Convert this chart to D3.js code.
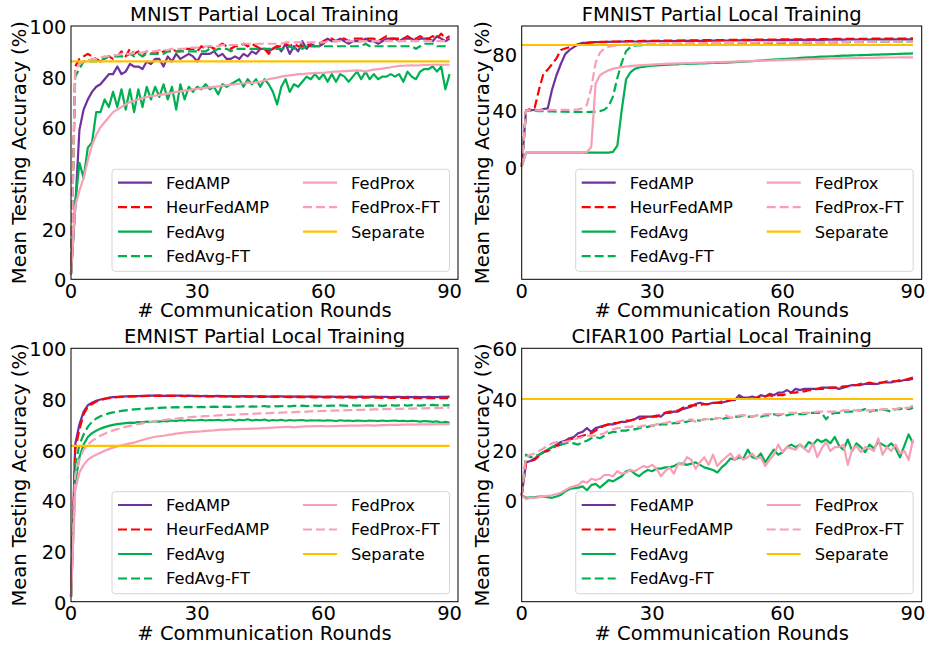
<!DOCTYPE html>
<html>
<head>
<meta charset="utf-8">
<script src="https://cdnjs.cloudflare.com/ajax/libs/d3/7.8.5/d3.min.js"></script>
<style>
  body { margin: 0; background: #fff; }
  svg { display: block; font-family: "DejaVu Sans", sans-serif; }
</style>
</head>
<body>
<div id="viz"></div>
<script>
// communication rounds on the x axis
var rounds = d3.range(0, 91),
    sepRounds = [0, 90];

var seriesNames = ['FedAMP', 'HeurFedAMP', 'FedAvg', 'FedAvg-FT', 'FedProx', 'FedProx-FT', 'Separate'];
var xTicks = [0, 30, 60, 90];

// ---- MNIST ----
var mnistAmp = [2, 28, 59, 67, 71, 74, 76, 77, 79, 81,
  81, 84, 81, 82, 85, 84, 84, 83, 86, 85,
  87, 87, 84, 88, 86, 89, 87, 88, 89, 88,
  86, 89, 89, 89, 90, 88, 89, 87, 87, 88,
  87, 89, 88, 90, 89, 91, 91, 90, 91, 92,
  90, 93, 89, 92, 90, 94, 91, 93, 92, 92,
  93, 95, 94, 94, 95, 94, 93, 94, 94, 94,
  95, 94, 94, 93, 94, 95, 95, 95, 94, 95,
  95, 95, 94, 95, 95, 95, 94, 96, 95, 94, 95];
var mnistHeur = [2, 84, 87, 88, 89, 88, 87, 86, 87, 88,
  87, 88, 90, 88, 91, 89, 90, 88, 90, 89,
  90, 89, 90, 90, 91, 90, 90, 91, 91, 91,
  90, 92, 91, 92, 91, 92, 93, 92, 91, 92,
  92, 93, 92, 93, 92, 91, 91, 89, 91, 92,
  92, 93, 92, 93, 92, 92, 93, 92, 92, 93,
  94, 95, 95, 94, 95, 95, 94, 95, 95, 95,
  95, 95, 95, 94, 95, 96, 95, 95, 95, 95,
  96, 95, 95, 96, 95, 95, 96, 95, 97, 95, 96];
var mnistAvg = [2, 30, 46, 40, 52, 54, 66, 66, 71, 68,
  74, 68, 75, 67, 75, 66, 75, 68, 76, 71,
  76, 72, 77, 71, 76, 67, 77, 71, 76, 74,
  76, 75, 77, 75, 76, 73, 77, 76, 77, 78,
  79, 76, 79, 77, 79, 76, 79, 77, 74, 69,
  76, 79, 74, 77, 76, 78, 80, 79, 81, 79,
  81, 78, 81, 78, 81, 80, 78, 80, 82, 79,
  82, 79, 81, 79, 80, 80, 81, 80, 81, 78,
  82, 80, 79, 82, 83, 83, 84, 82, 84, 75, 81];
var mnistAvgFT = [2, 80, 83, 86, 86, 86, 86, 87, 87, 88,
  88, 88, 88, 88, 89, 88, 89, 88, 89, 89,
  89, 89, 89, 90, 90, 90, 90, 90, 90, 90,
  90, 90, 90, 91, 90, 91, 91, 91, 90, 91,
  91, 91, 91, 91, 91, 91, 91, 91, 91, 91,
  91, 91, 92, 91, 92, 91, 92, 92, 92, 92,
  92, 92, 92, 92, 92, 92, 92, 92, 92, 92,
  93, 92, 92, 92, 92, 92, 92, 92, 92, 92,
  92, 92, 91, 92, 93, 93, 93, 92, 92, 92, 92];
var mnistProx = [2, 29, 35, 40, 47, 53, 57, 60, 62, 64,
  66, 67, 68, 69, 70, 70.5, 71, 71.5, 72, 72.3,
  72.5, 72.8, 73, 73.3, 73.6, 74, 74.2, 74.5, 74.7, 75,
  75.2, 75.4, 75.6, 75.8, 76, 76.2, 76.4, 76.6, 76.8, 77,
  77.2, 77.4, 77.6, 77.5, 77.8, 78, 78.5, 79, 79.3, 79.6,
  80, 80.3, 80.5, 80.7, 81, 81, 81.2, 81.3, 81.4, 81.5,
  81.5, 81.7, 81.9, 82, 82.1, 82.2, 82.3, 82.4, 82.5, 82.4,
  82, 82.5, 82.8, 83, 83.2, 83.5, 83.7, 84, 84.2, 84.3,
  84.4, 84.5, 84.4, 84.5, 84.6, 84.6, 84.7, 84.7, 84.6, 84.7, 84.7];
var mnistProxFT = [2, 82, 85, 86, 86.5, 87, 87, 87.5, 88, 88,
  88.5, 88.5, 89, 89, 89, 89.5, 89.5, 89.5, 90, 90,
  90, 90.5, 90.5, 90.5, 91, 91, 91, 91, 91.5, 91.5,
  91.5, 91.5, 92, 92, 92, 92, 92.5, 92.5, 92.5, 92.5,
  92.5, 93, 93, 93, 93, 93, 93, 93, 93, 93,
  93, 93.5, 93.5, 93.5, 93.5, 93.5, 93.5, 93.5, 93.5, 93.5,
  93.5, 94, 94, 94, 94, 94, 94, 94, 94, 94,
  94, 94, 94, 94, 94, 94, 94, 94, 94, 94,
  94, 94, 94, 94, 94, 94, 94, 94, 94, 94, 94];
var mnistSep = [86, 86];

// ---- FMNIST ----
var fmnistAmp = [0, 40, 40, 40.5, 40, 41, 41.5, 55, 65, 73,
  80, 83, 85, 87, 88, 88, 88.3, 88.5, 88.5, 88.6,
  88.7, 88.8, 88.8, 88.9, 89, 89, 89, 89, 89.1, 89.1,
  89.2, 89.2, 89.2, 89.3, 89.3, 89.3, 89.4, 89.4, 89.4, 89.5,
  89.5, 89.5, 89.5, 89.6, 89.6, 89.6, 89.7, 89.7, 89.7, 89.8,
  89.8, 89.8, 89.8, 89.9, 89.9, 89.9, 90, 90, 90, 90,
  90, 90, 90.1, 90.1, 90.1, 90.1, 90.2, 90.2, 90.2, 90.2,
  90.3, 90.3, 90.3, 90.3, 90.3, 90.4, 90.4, 90.4, 90.4, 90.4,
  90.4, 90.5, 90.5, 90.5, 90.5, 90.5, 90.5, 90.5, 90.5, 90.5, 90.5];
var fmnistHeur = [0, 40, 41, 42, 55, 66, 69, 73, 77, 83,
  84, 85, 86, 87, 87.5, 88, 88.3, 88.5, 88.7, 88.8,
  88.9, 89, 89, 89.1, 89.2, 89.2, 89.3, 89.3, 89.4, 89.4,
  89.5, 89.5, 89.6, 89.6, 89.6, 89.7, 89.7, 89.7, 89.8, 89.8,
  89.8, 89.9, 89.9, 89.9, 90, 90, 90, 90, 90.1, 90.1,
  90.1, 90.2, 90.2, 90.2, 90.3, 90.3, 90.3, 90.4, 90.4, 90.4,
  90.5, 90.5, 90.5, 90.5, 90.6, 90.6, 90.6, 90.6, 90.7, 90.7,
  90.7, 90.7, 90.8, 90.8, 90.8, 90.8, 90.9, 90.9, 90.9, 90.9,
  91, 91, 91, 91, 91, 91.1, 91.1, 91.1, 91.1, 91.1, 91.2];
var fmnistAvg = [0, 10, 10, 10, 10, 10, 10, 10, 10, 10,
  10, 10, 10, 10, 10, 10, 10, 10, 10, 10,
  10, 10.5, 15, 40, 62, 67, 69.5, 70.5, 71, 71.5,
  71.8, 72, 72.2, 72.4, 72.5, 72.7, 72.8, 73, 73.1, 73.2,
  73.3, 73.4, 73.5, 73.6, 73.7, 73.8, 73.9, 74, 74.1, 74.3,
  74.5, 74.7, 74.9, 75.1, 75.3, 75.5, 75.7, 75.9, 76.1, 76.3,
  76.5, 76.7, 76.9, 77.1, 77.3, 77.5, 77.7, 77.8, 78, 78.2,
  78.3, 78.5, 78.6, 78.8, 78.9, 79, 79.1, 79.2, 79.3, 79.4,
  79.5, 79.6, 79.7, 79.8, 79.9, 80, 80.1, 80.2, 80.3, 80.4, 80.5];
var fmnistAvgFT = [0, 40, 39.8, 39.6, 39.5, 39.5, 39.4, 39.3, 39.2, 39.2,
  39.1, 39, 39, 39, 38.9, 38.9, 39, 39, 39.5, 40.5,
  43, 50, 63, 74, 82, 85, 86, 86.3, 86.5, 86.7,
  86.8, 86.9, 87, 87, 87.1, 87.1, 87.2, 87.2, 87.3, 87.3,
  87.4, 87.4, 87.4, 87.5, 87.5, 87.5, 87.6, 87.6, 87.6, 87.7,
  87.7, 87.7, 87.8, 87.8, 87.8, 87.9, 87.9, 87.9, 88, 88,
  88, 88, 88.1, 88.1, 88.1, 88.2, 88.2, 88.2, 88.3, 88.3,
  88.3, 88.4, 88.4, 88.4, 88.5, 88.5, 88.5, 88.6, 88.6, 88.6,
  88.7, 88.7, 88.7, 88.7, 88.8, 88.8, 88.8, 88.8, 88.9, 88.9, 88.9];
var fmnistProx = [0, 10, 10, 10, 10, 10, 10, 10, 10, 10,
  10, 10, 10, 10, 10, 10.5, 14, 59, 65, 67,
  68.5, 69.5, 70.3, 70.8, 71.2, 71.5, 71.8, 72, 72.2, 72.4,
  72.6, 72.8, 73, 73.1, 73.2, 73.3, 73.4, 73.5, 73.6, 73.7,
  73.8, 73.9, 74, 74.1, 74.2, 74.3, 74.4, 74.5, 74.6, 74.7,
  74.8, 74.9, 75, 75.1, 75.2, 75.3, 75.4, 75.5, 75.6, 75.7,
  75.8, 75.9, 76, 76.1, 76.2, 76.3, 76.4, 76.5, 76.6, 76.7,
  76.8, 76.9, 77, 77, 77.1, 77.1, 77.2, 77.2, 77.3, 77.3,
  77.4, 77.4, 77.5, 77.5, 77.6, 77.6, 77.6, 77.7, 77.7, 77.7, 77.7];
var fmnistProxFT = [0, 40, 40, 40, 40, 40.2, 40.2, 40.3, 40.3, 40.4,
  40.4, 40.5, 40.5, 40.8, 41.5, 44, 56, 74, 81, 84,
  85.3, 85.8, 86.2, 86.5, 86.7, 86.9, 87, 87.1, 87.2, 87.3,
  87.4, 87.4, 87.5, 87.5, 87.6, 87.6, 87.7, 87.7, 87.7, 87.8,
  87.8, 87.8, 87.9, 87.9, 87.9, 88, 88, 88, 88, 88.1,
  88.1, 88.1, 88.1, 88.2, 88.2, 88.2, 88.2, 88.3, 88.3, 88.3,
  88.3, 88.3, 88.4, 88.4, 88.4, 88.4, 88.4, 88.5, 88.5, 88.5,
  88.5, 88.5, 88.6, 88.6, 88.6, 88.6, 88.6, 88.7, 88.7, 88.7,
  88.7, 88.7, 88.8, 88.8, 88.8, 88.8, 88.8, 88.9, 88.9, 88.9, 88.9];
var fmnistSep = [86.5, 86.5];

// ---- EMNIST ----
var emnistAmp = [2, 62, 70, 75, 77.5, 78.5, 79.3, 79.8, 80.2, 80.5,
  80.7, 80.8, 80.9, 81, 81, 81.1, 81.1, 81.2, 81.2, 81.3,
  81.3, 81.3, 81.2, 81.3, 81.2, 81.3, 81.3, 81.2, 81.3, 81.2,
  81.2, 81.1, 81.2, 81.1, 81.1, 81.2, 81.1, 81, 81.1, 81,
  81, 81.1, 81, 81, 81, 81.1, 81, 80.9, 81, 81,
  81, 80.9, 81, 80.9, 81, 80.9, 80.9, 81, 80.9, 80.9,
  80.8, 80.9, 80.9, 80.8, 80.9, 80.8, 80.9, 80.8, 80.8, 80.9,
  80.8, 80.8, 80.9, 80.8, 80.8, 80.8, 80.7, 80.8, 80.8, 80.7,
  80.8, 80.7, 80.8, 80.7, 80.7, 80.8, 80.7, 80.7, 80.8, 80.8, 80.9];
var emnistHeur = [2, 60, 68, 74, 77, 78, 79, 79.6, 80, 80.3,
  80.5, 80.7, 80.8, 80.9, 81, 81, 81.1, 81.1, 81.2, 81.2,
  81.2, 81.3, 81.2, 81.2, 81.3, 81.2, 81.2, 81.1, 81.2, 81.1,
  81.1, 81.1, 81, 81.1, 81, 81, 81.1, 81, 80.9, 81,
  80.9, 80.9, 81, 80.9, 80.9, 80.8, 80.9, 80.8, 80.8, 80.9,
  80.8, 80.8, 80.7, 80.8, 80.7, 80.8, 80.7, 80.7, 80.6, 80.7,
  80.6, 80.6, 80.7, 80.6, 80.6, 80.5, 80.6, 80.5, 80.6, 80.5,
  80.5, 80.6, 80.5, 80.5, 80.4, 80.5, 80.4, 80.5, 80.4, 80.4,
  80.4, 80.3, 80.4, 80.3, 80.4, 80.3, 80.3, 80.4, 80.3, 80.3, 80.3];
var emnistAvg = [2, 47, 57, 62, 65, 66.5, 67.5, 68.3, 68.9, 69.4,
  69.8, 70.1, 70.3, 70.5, 70.7, 70.6, 70.9, 70.8, 71.1, 70.9,
  71.2, 71.1, 71.3, 71.2, 71.5, 71.3, 71.6, 71.4, 71.7, 71.5,
  71.6, 71.8, 71.5, 71.7, 71.6, 71.8, 71.5, 71.7, 71.9, 71.4,
  71.8, 71.6, 72, 71.5, 71.8, 71.6, 71.9, 71.4, 71.7, 71.5,
  71.8, 71.4, 71.7, 71.5, 71.6, 71.7, 71.4, 71.6, 71.5, 71.6,
  71.4, 71.6, 71.5, 71.3, 71.6, 71.4, 71.5, 71.3, 71.5, 71.4,
  71.3, 71.5, 71.4, 71.3, 71.5, 71.3, 71.4, 71.5, 71.3, 71.4,
  71.2, 71.4, 71.3, 71.1, 71.3, 71.2, 71, 71.2, 70.6, 71, 70.6];
var emnistAvgFT = [2, 54, 62, 66, 69, 71, 72.3, 73.2, 73.8, 74.3,
  74.7, 75, 75.3, 75.5, 75.7, 75.9, 76, 76.1, 76.2, 76.3,
  76.4, 76.5, 76.6, 76.6, 76.7, 76.8, 76.7, 76.8, 76.9, 76.8,
  76.8, 76.9, 76.8, 76.9, 77, 76.9, 76.9, 77, 76.9, 77,
  77, 77.1, 76.9, 77.1, 77, 77.1, 77.2, 77, 77.2, 77.1,
  77.2, 77.3, 77.1, 77.3, 77.2, 77.4, 77.2, 77.3, 77.4, 77.3,
  77.5, 77.3, 77.4, 77.3, 77.5, 77.4, 77.3, 77.5, 77.4, 77.5,
  77.3, 77.5, 77.4, 77.5, 77.3, 77.5, 77.6, 77.4, 77.5, 77.6,
  77.4, 77.6, 77.5, 77.4, 77.6, 77.5, 77.7, 77.5, 77.6, 77.5, 77.6];
var emnistProx = [2, 44, 51, 54, 56, 57.2, 58, 58.8, 59.6, 60.2,
  60.8, 61.3, 61.7, 62.1, 62.5, 62.8, 63.3, 63.8, 64.3, 64.7,
  65.1, 65.3, 65.5, 65.8, 66, 66.3, 66.5, 66.7, 66.9, 67,
  67.1, 67.2, 67.4, 67.5, 67.6, 67.8, 67.9, 67.9, 68, 68.1,
  68.1, 68.2, 68.2, 68.3, 68.3, 68.4, 68.5, 68.6, 68.7, 68.8,
  68.9, 69, 69, 68.8, 69, 69.1, 69.2, 69.2, 69.3, 69.3,
  69.3, 69.2, 69.3, 69.3, 69.4, 69.4, 69.5, 69.5, 69.5, 69.5,
  69.6, 69.6, 69.5, 69.6, 69.7, 69.7, 69.8, 69.8, 69.8, 69.9,
  69.9, 69.9, 69.9, 70, 70, 70, 70, 70.1, 70.1, 70.1, 70.1];
var emnistProxFT = [2, 50, 56, 60, 62, 63.5, 64.5, 65.5, 66.3, 67,
  67.6, 68.1, 68.6, 69, 69.4, 69.8, 70.1, 70.4, 70.7, 71,
  71.3, 71.5, 71.7, 71.9, 72.1, 72.3, 72.5, 72.6, 72.8, 72.9,
  73, 73.1, 73.2, 73.3, 73.4, 73.5, 73.6, 73.6, 73.7, 73.8,
  73.9, 74, 74, 74.1, 74.2, 74.3, 74.3, 74.4, 74.5, 74.5,
  74.6, 74.7, 74.7, 74.8, 74.9, 74.9, 75, 75.1, 75.1, 75.2,
  75.3, 75.3, 75.4, 75.4, 75.5, 75.5, 75.6, 75.6, 75.7, 75.7,
  75.8, 75.8, 75.9, 75.9, 76, 76, 76.1, 76.1, 76.1, 76.2,
  76.2, 76.2, 76.3, 76.3, 76.3, 76.4, 76.4, 76.4, 76.5, 76.5, 76.6];
var emnistSep = [61.5, 61.5];

// ---- CIFAR100 ----
var cifarAmp = [2, 15, 15.5, 16.5, 18, 19, 20, 21, 22, 23,
  23.5, 24.5, 25, 26.5, 27, 28.5, 27, 28.5, 29, 29.5,
  30, 30, 30.5, 31, 31, 31.5, 32, 33, 33, 33,
  33, 33.5, 33, 34.5, 34.5, 35, 35, 36, 36.5, 37,
  38, 38.5, 38, 38, 38.5, 38.5, 38.5, 39, 39.5, 39.5,
  41.5, 40.5, 40.5, 41, 40.5, 41.5, 41, 42, 41.5, 42.5,
  42.5, 43.5, 42.5, 44, 43.5, 44, 44, 44, 44, 44.5,
  44.5, 44.5, 44.5, 44, 44.5, 45, 45.5, 45.5, 45.5, 46,
  46, 46, 46, 46.5, 46.5, 46.5, 47, 47, 47.5, 47.5, 48];
var cifarHeur = [2, 15, 15.5, 16, 17.5, 19, 19.5, 20.5, 21.5, 22,
  23, 24, 24.5, 25, 25.5, 26, 26.5, 27.5, 28.5, 29.5,
  30, 30.5, 30.5, 31, 31.5, 31.5, 32, 32, 32.5, 33,
  33, 33, 34, 34.5, 35, 35, 35.5, 36.5, 37, 37.5,
  37.5, 37.5, 38, 38, 38.5, 38.5, 39, 39, 39.5, 40,
  40.5, 40, 40, 40, 40.5, 41, 41, 41.5, 41, 41.5,
  41.5, 42, 42.5, 42.5, 43, 43, 43.5, 43.5, 44, 44,
  44, 44.5, 44.5, 44.5, 45, 45, 45.5, 45.5, 46, 46,
  46.5, 46, 46.5, 46.5, 47, 47, 47, 47.5, 47.5, 48, 48.5];
var cifarAvg = [2, 1, 1.2, 1.3, 1.5, 1.5, 1.3, 1, 1.5, 2.2,
  3.5, 4.5, 4.8, 5, 5.5, 4, 6, 6.5, 5, 6.5,
  8, 7.5, 8.5, 9.5, 11.5, 12, 10.5, 9.5, 11, 12,
  11.5, 12.5, 12.5, 13, 13, 13.5, 14.5, 14.5, 14, 14.5,
  15, 14, 13, 12.5, 12, 11, 13, 14.5, 16.5, 16,
  17, 16.5, 20, 17, 16.5, 18.5, 15, 17.5, 20, 18,
  19, 21, 22, 21, 22, 20.5, 23, 22, 24, 23,
  24, 22.5, 25, 21.5, 20, 24, 19.5, 22.5, 21, 19,
  22, 20.5, 23, 22, 21, 22.5, 20.5, 17, 21.5, 26, 22.5];
var cifarAvgFT = [2, 18, 17, 17.5, 18, 19, 20, 21, 21.5, 22,
  22.5, 23, 22.5, 22, 23, 23.5, 24.5, 25, 24.5, 25.5,
  26.5, 27, 27, 27.5, 27.5, 28, 28, 28.5, 29, 29,
  29.5, 29.5, 30, 30, 30, 30.5, 30.5, 31, 31, 31.5,
  31.5, 31.5, 32, 32, 32, 32.5, 32, 32.5, 32.5, 33,
  33, 33.5, 33, 33, 33.5, 33, 33.5, 33.5, 34, 33.5,
  34, 33.5, 34, 34, 34, 34, 34.5, 34.5, 34.5, 34.5,
  32, 34, 34.5, 34.5, 35, 35, 35, 35.5, 35.5, 36,
  35, 35.5, 35.5, 36, 35.5, 35, 36, 36, 36.5, 36, 36.5];
var cifarProx = [2, 0.5, 1, 1, 1.3, 1.5, 1.8, 2, 2.5, 3,
  4, 5, 5.5, 6, 7.5, 7, 8.5, 8, 8.5, 10,
  10, 9.5, 11.5, 10.5, 11, 12, 11.5, 12.5, 13.5, 13,
  14, 12.5, 9.5, 11.5, 13, 10.5, 14.5, 14, 17, 16,
  12.5, 15, 17, 14, 18, 13.5, 15.5, 17, 18.5, 16,
  18, 16, 17, 18.5, 16.5, 17, 13.5, 16, 18, 22,
  19, 21, 20.5, 20, 22, 20.5, 19, 22.5, 17, 20.5,
  23, 19.5, 21, 21, 22, 14, 20, 21.5, 19, 21,
  20.5, 19.5, 24.5, 18, 21, 19.5, 22, 18.5, 19.5, 16, 24];
var cifarProxFT = [2, 17, 18, 18.5, 19.5, 20.5, 21.5, 22.5, 23, 23,
  23, 23.5, 24, 24.5, 25, 25.5, 25.5, 25.5, 26, 26.5,
  27.5, 28, 28.5, 28.5, 29, 29, 29.5, 29, 29.5, 29.5,
  29.5, 30, 30.5, 30.5, 31, 31, 31, 31.5, 31.5, 32,
  31, 31.5, 32, 32, 32, 32.5, 32.5, 33.5, 32.5, 33,
  33.5, 33.5, 33.5, 33, 33.5, 33.5, 34, 34, 34, 34,
  34, 34.5, 34.5, 34.5, 34.5, 34.5, 34.5, 34.5, 35, 35,
  35, 35, 35, 35, 35.5, 35.5, 35.5, 35.5, 35.5, 35.5,
  35.5, 35.5, 35.5, 36, 36, 36, 36, 36.5, 36.5, 36.5, 37.5];
var cifarSep = [40, 40];

// line styles, keyed by series name
var styles = {
  'FedAMP':     { color: '#7030a0', dash: null },
  'HeurFedAMP': { color: '#ff0000', dash: '9,4' },
  'FedAvg':     { color: '#00b050', dash: null },
  'FedAvg-FT':  { color: '#00b050', dash: '9,4' },
  'FedProx':    { color: '#f79fb5', dash: null },
  'FedProx-FT': { color: '#f79fb5', dash: '9,4' },
  'Separate':   { color: '#ffc000', dash: null }
};

var panels = [
  { title: 'MNIST Partial Local Training', left: 71, right: 458, top: 26, bottom: 279.3,
    yDomain: [0, 100], yTicks: [0, 20, 40, 60, 80, 100], yLabelX: 19,
    data: [mnistAmp, mnistHeur, mnistAvg, mnistAvgFT, mnistProx, mnistProxFT, mnistSep] },
  { title: 'FMNIST Partial Local Training', left: 521.7, right: 921.7, top: 26, bottom: 279.3,
    yDomain: [-80, 100], yTicks: [0, 40, 80], yLabelX: 482,
    data: [fmnistAmp, fmnistHeur, fmnistAvg, fmnistAvgFT, fmnistProx, fmnistProxFT, fmnistSep] },
  { title: 'EMNIST Partial Local Training', left: 71, right: 458, top: 348.3, bottom: 601.7,
    yDomain: [0, 100], yTicks: [0, 20, 40, 60, 80, 100], yLabelX: 19,
    data: [emnistAmp, emnistHeur, emnistAvg, emnistAvgFT, emnistProx, emnistProxFT, emnistSep] },
  { title: 'CIFAR100 Partial Local Training', left: 521.7, right: 921.7, top: 348.3, bottom: 601.7,
    yDomain: [-40, 60], yTicks: [0, 20, 40, 60], yLabelX: 482,
    data: [cifarAmp, cifarHeur, cifarAvg, cifarAvgFT, cifarProx, cifarProxFT, cifarSep] }
];

var svg = d3.select('#viz').append('svg')
  .attr('width', 925)
  .attr('height', 650);

panels.forEach(function(p) {
  var xScale = d3.scaleLinear().domain([0, 92]).range([p.left, p.right]),
      yScale = d3.scaleLinear().domain(p.yDomain).range([p.bottom, p.top]),
      g = svg.append('g');

  // lines
  seriesNames.forEach(function(name, i) {
    var vals = p.data[i],
        xs = name === 'Separate' ? sepRounds : rounds,
        st = styles[name];
    var line = d3.line()
      .x(function(d, j) { return xScale(xs[j]); })
      .y(function(d) { return yScale(d); });
    g.append('path')
      .datum(vals)
      .attr('d', line)
      .attr('fill', 'none')
      .attr('stroke', st.color)
      .attr('stroke-width', 2.2)
      .attr('stroke-linejoin', 'round')
      .attr('stroke-dasharray', st.dash);
  });

  // frame
  g.append('rect')
    .attr('x', p.left).attr('y', p.top)
    .attr('width', p.right - p.left).attr('height', p.bottom - p.top)
    .attr('fill', 'none').attr('stroke', '#000').attr('stroke-width', 1);

  // y tick labels
  g.selectAll('.ytick').data(p.yTicks).enter().append('text')
    .attr('x', p.left - 4.5)
    .attr('y', function(d) { return yScale(d) + 8; })
    .attr('text-anchor', 'end')
    .attr('font-size', 19.5)
    .text(function(d) { return d; });

  // x tick labels
  g.selectAll('.xtick').data(xTicks).enter().append('text')
    .attr('x', function(d) { return xScale(d); })
    .attr('y', p.bottom + 18.4)
    .attr('text-anchor', 'middle')
    .attr('font-size', 19.5)
    .text(function(d) { return d; });

  g.append('text')
    .attr('x', (p.left + p.right) / 2)
    .attr('y', p.top - 5)
    .attr('text-anchor', 'middle')
    .attr('font-size', 19.5)
    .text(p.title);

  g.append('text')
    .attr('x', (p.left + p.right) / 2)
    .attr('y', p.bottom + 38)
    .attr('text-anchor', 'middle')
    .attr('font-size', 19.5)
    .text('# Communication Rounds');

  g.append('text')
    .attr('transform', 'translate(' + (p.yLabelX + 7) + ',' + ((p.top + p.bottom) / 2) + ') rotate(-90)')
    .attr('text-anchor', 'middle')
    .attr('font-size', 19.5)
    .text('Mean Testing Accuracy (%)');

  // legend, lower right
  var lw = 337.5, lh = 102,
      lx = p.right - 8.5 - lw, ly = p.bottom - 8 - lh,
      legend = g.append('g').attr('transform', 'translate(' + lx + ',' + ly + ')');

  legend.append('rect')
    .attr('width', lw).attr('height', lh)
    .attr('rx', 3)
    .attr('fill', '#fff').attr('fill-opacity', 0.8)
    .attr('stroke', '#d6d6d6').attr('stroke-width', 1);

  seriesNames.forEach(function(name, i) {
    var col = i < 4 ? 0 : 1,
        row = i < 4 ? i : i - 4,
        hx = col === 0 ? 6 : 191,
        cy = 13.3 + row * 24.5,
        st = styles[name];
    legend.append('line')
      .attr('x1', hx).attr('x2', hx + 34)
      .attr('y1', cy).attr('y2', cy)
      .attr('stroke', st.color)
      .attr('stroke-width', 2.2)
      .attr('stroke-dasharray', st.dash);
    legend.append('text')
      .attr('x', hx + 48)
      .attr('y', cy + 6)
      .attr('font-size', 16.3)
      .text(name);
  });
});
</script>
</body>
</html>
